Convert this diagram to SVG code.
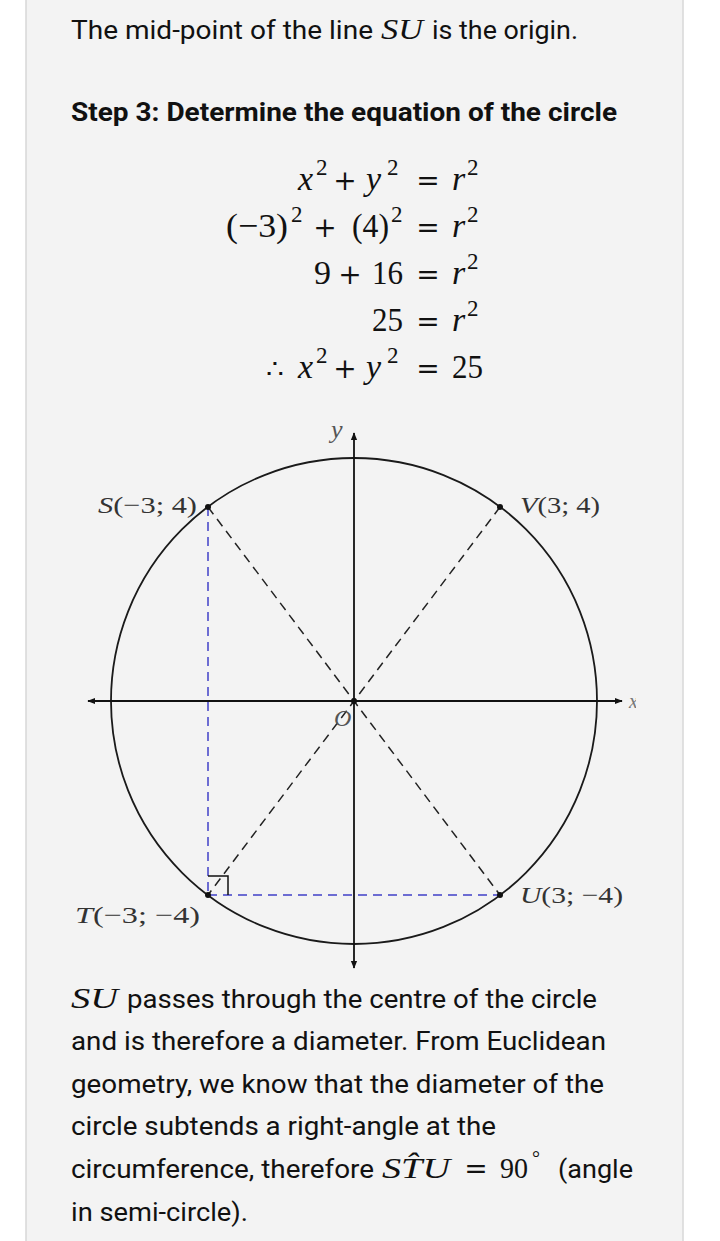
<svg xmlns="http://www.w3.org/2000/svg" width="720" height="1241" viewBox="0 0 720 1241">
<style>
.body{font-family:Roboto,"Liberation Sans",sans-serif;font-size:25px;fill:#111}
.bold{font-family:Roboto,"Liberation Sans",sans-serif;font-size:25px;font-weight:bold;fill:#111}
.m{font-family:"Liberation Serif","DejaVu Serif",serif;font-size:34px;fill:#111}
.mi{font-family:"Liberation Serif","DejaVu Serif",serif;font-size:34px;font-style:italic;fill:#111}
.sup{font-family:"Liberation Serif","DejaVu Serif",serif;font-size:23px;fill:#111}
.op{font-family:"DejaVu Serif",serif;font-size:28px;fill:#111}
.lbl{font-family:"Liberation Serif","DejaVu Serif",serif;font-size:24px;fill:#333}
.lbli{font-style:italic}
.axis{stroke:#111;stroke-width:1.8;fill:none}
.dash{stroke:#222;stroke-width:1.5;stroke-dasharray:9 6;fill:none}
.blue{stroke:#4040c8;stroke-width:1.5;stroke-dasharray:9 6;fill:none}
</style>
<defs>
<marker id="arr" viewBox="0 0 10 10" refX="9" refY="5" markerWidth="8" markerHeight="8" markerUnits="userSpaceOnUse" orient="auto">
<path d="M0,1 L10,5 L0,9 Z" fill="#111"/>
</marker>
<clipPath id="xclip"><rect x="620" y="680" width="16" height="40"/></clipPath>
</defs>
<rect x="0" y="0" width="720" height="1241" fill="#ffffff"/>
<rect x="26" y="-2" width="657" height="1245" fill="#f3f3f3" stroke="#d8d8d8" stroke-width="1.5"/>

<g id="intro">
<text class="body" x="71" y="39" textLength="302" lengthAdjust="spacingAndGlyphs">The mid-point of the line</text>
<text class="mi" x="381" y="39" textLength="42" lengthAdjust="spacingAndGlyphs" style="font-size:29px">SU</text>
<text class="body" x="432" y="39" textLength="146" lengthAdjust="spacingAndGlyphs">is the origin.</text>
<text class="bold" x="71" y="121" textLength="546" lengthAdjust="spacingAndGlyphs">Step 3: Determine the equation of the circle</text>
</g>

<g id="equations">
<text class="mi" x="298" y="190">x</text><text class="sup" x="316" y="175">2</text>
<text class="op" x="345" y="190" text-anchor="middle">+</text>
<text class="mi" x="366" y="190">y</text><text class="sup" x="387" y="175">2</text>
<text class="op" x="428" y="190" text-anchor="middle">=</text>
<text class="mi" x="452" y="190">r</text><text class="sup" x="467" y="175">2</text>

<text class="m" x="226" y="237" textLength="62" lengthAdjust="spacingAndGlyphs">(−3)</text><text class="sup" x="291" y="222">2</text>
<text class="op" x="325" y="237" text-anchor="middle">+</text>
<text class="m" x="352" y="237" textLength="37" lengthAdjust="spacingAndGlyphs">(4)</text><text class="sup" x="391" y="222">2</text>
<text class="op" x="428" y="237" text-anchor="middle">=</text>
<text class="mi" x="452" y="237">r</text><text class="sup" x="467" y="222">2</text>

<text class="m" x="314" y="284">9</text>
<text class="op" x="350" y="284" text-anchor="middle">+</text>
<text class="m" x="372" y="284" textLength="31" lengthAdjust="spacingAndGlyphs">16</text>
<text class="op" x="428" y="284" text-anchor="middle">=</text>
<text class="mi" x="452" y="284">r</text><text class="sup" x="467" y="269">2</text>

<text class="m" x="372" y="331" textLength="31" lengthAdjust="spacingAndGlyphs">25</text>
<text class="op" x="428" y="331" text-anchor="middle">=</text>
<text class="mi" x="452" y="331">r</text><text class="sup" x="467" y="316">2</text>

<text class="op" x="266" y="378">∴</text>
<text class="mi" x="298" y="378">x</text><text class="sup" x="316" y="363">2</text>
<text class="op" x="345" y="378" text-anchor="middle">+</text>
<text class="mi" x="366" y="378">y</text><text class="sup" x="387" y="363">2</text>
<text class="op" x="428" y="378" text-anchor="middle">=</text>
<text class="m" x="452" y="378" textLength="31" lengthAdjust="spacingAndGlyphs">25</text>
</g>

<g id="circle">
<circle cx="354" cy="701" r="243" fill="none" stroke="#1a1a1a" stroke-width="1.8"/>
</g>

<g id="connectors">
<line class="axis" x1="354" y1="701" x2="88" y2="701" marker-end="url(#arr)"/>
<line class="axis" x1="354" y1="701" x2="622" y2="701" marker-end="url(#arr)"/>
<line class="axis" x1="354" y1="701" x2="354" y2="433" marker-end="url(#arr)"/>
<line class="axis" x1="354" y1="701" x2="354" y2="968" marker-end="url(#arr)"/>
<line class="dash" x1="208" y1="507" x2="500" y2="895"/>
<line class="dash" x1="500" y1="507" x2="208" y2="895"/>
<line class="blue" x1="208" y1="507" x2="208" y2="895"/>
<line class="blue" x1="208" y1="895" x2="500" y2="895"/>
<polyline points="208,876 228,876 228,895" fill="none" stroke="#111" stroke-width="1.5"/>
</g>

<g id="axis-labels">
<text class="lbl lbli" x="331" y="438" style="fill:#555;font-size:26px">y</text>
<text class="lbl lbli" x="629" y="708" clip-path="url(#xclip)" style="fill:#777;font-size:20px">x</text>
</g>

<g id="O">
<circle cx="354" cy="701" r="3" fill="#111"/>
<text class="lbl lbli" x="334" y="726" style="fill:#555">O</text>
</g>
<g id="S">
<circle cx="208" cy="507" r="3" fill="#111"/>
<text class="lbl" x="98" y="513" textLength="99" lengthAdjust="spacingAndGlyphs"><tspan font-style="italic">S</tspan>(−3; 4)</text>
</g>
<g id="V">
<circle cx="500" cy="507" r="3" fill="#111"/>
<text class="lbl" x="520" y="513" textLength="80" lengthAdjust="spacingAndGlyphs"><tspan font-style="italic">V</tspan>(3; 4)</text>
</g>
<g id="T">
<circle cx="208" cy="895" r="3" fill="#111"/>
<text class="lbl" x="75" y="923" textLength="125" lengthAdjust="spacingAndGlyphs"><tspan font-style="italic">T</tspan>(−3; −4)</text>
</g>
<g id="U">
<circle cx="500" cy="895" r="3" fill="#111"/>
<text class="lbl" x="520" y="903" textLength="103" lengthAdjust="spacingAndGlyphs"><tspan font-style="italic">U</tspan>(3; −4)</text>
</g>

<g id="explanation">
<text class="mi" x="71" y="1008" textLength="47" lengthAdjust="spacingAndGlyphs" style="font-size:29px">SU</text>
<text class="body" x="127" y="1008" textLength="470" lengthAdjust="spacingAndGlyphs">passes through the centre of the circle</text>
<text class="body" x="71" y="1050" textLength="535" lengthAdjust="spacingAndGlyphs">and is therefore a diameter. From Euclidean</text>
<text class="body" x="71" y="1093" textLength="533" lengthAdjust="spacingAndGlyphs">geometry, we know that the diameter of the</text>
<text class="body" x="71" y="1135" textLength="425" lengthAdjust="spacingAndGlyphs">circle subtends a right-angle at the</text>
<text class="body" x="71" y="1178" textLength="303" lengthAdjust="spacingAndGlyphs">circumference, therefore</text>
<text class="mi" x="382" y="1178" textLength="68" lengthAdjust="spacingAndGlyphs" style="font-size:30px">ST̂U</text>
<text class="op" x="476" y="1178" text-anchor="middle">=</text>
<text class="m" x="500" y="1178" textLength="28" lengthAdjust="spacingAndGlyphs" style="font-size:29px">90</text>
<text class="sup" x="532" y="1165" style="font-size:20px">°</text>
<text class="body" x="558" y="1178" textLength="75" lengthAdjust="spacingAndGlyphs">(angle</text>
<text class="body" x="71" y="1221" textLength="177" lengthAdjust="spacingAndGlyphs">in semi-circle).</text>
</g>
</svg>
